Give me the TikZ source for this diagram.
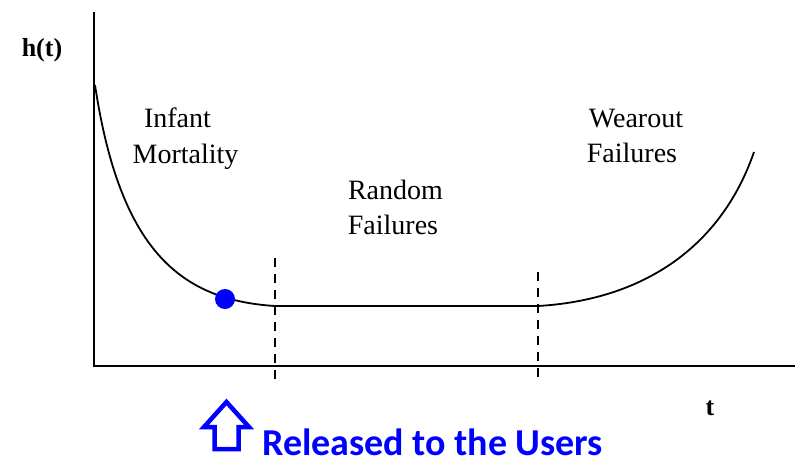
\documentclass[tikz,border=0pt]{standalone}
\usepackage{fontspec}
\setmainfont{Liberation Serif}
\newfontfamily\calfont{Carlito}
\begin{document}
\begin{tikzpicture}[x=1pt,y=-1pt,
  lbl/.style={font=\fontsize{28}{36}\selectfont, anchor=base, inner sep=0pt},
  axisline/.style={line width=1.6pt, black},
  curveline/.style={line width=1.8pt, black},
  divider/.style={line width=1.5pt, dash pattern=on 9pt off 7pt},
  bluetext/.style={font=\calfont\bfseries\fontsize{38}{40}\selectfont, text=blue, anchor=base west, inner sep=0pt, text depth=0pt}]
\useasboundingbox (0,0) rectangle (802,464);
% axes
\coordinate (ytop) at (94,12);
\coordinate (origin) at (94,366);
\coordinate (xend) at (795,366);
\draw[axisline] (ytop) -- (origin) -- (xend);
% curve
\coordinate (c0) at (95,85);
\coordinate (c1) at (275,306);
\coordinate (c2) at (538,306);
\coordinate (c3) at (754,152);
\draw[curveline] (c0) .. controls (120,250) and (180,300) .. (c1) -- (c2)
  .. controls (640,300) and (720,250) .. (c3);
% dividers
\coordinate (d1t) at (275,258);
\coordinate (d1b) at (275,384);
\coordinate (d2t) at (538,272);
\coordinate (d2b) at (538,378);
\draw[divider] (d1t) -- (d1b);
\draw[divider] (d2t) -- (d2b);
% dot
\fill[blue] (225,299) circle (10);
% labels
\node[lbl, font=\fontsize{26}{30}\selectfont\bfseries] (ht) at (42,56) {h(t)};
\node[lbl] (inf1) at (177.5,127) {Infant};
\node[lbl] (inf2) at (185.5,163) {Mortality};
\node[lbl] (rnd1) at (395.5,199) {Random};
\node[lbl] (rnd2) at (393,234) {Failures};
\node[lbl] (wo1) at (636,127) {Wearout};
\node[lbl] (wo2) at (632,162) {Failures};
\node[lbl, font=\fontsize{26}{30}\selectfont\bfseries] (tlab) at (710,415) {t};
% release arrow and text
\draw[blue, line width=4.5pt, line join=miter]
  (226.5,402) -- (249,427) -- (238.5,427) -- (238.5,449) -- (214.5,449)
  -- (214.5,427) -- (204,427) -- cycle;
\node[bluetext] (rel) at (262,455) {Released to the Users};
\end{tikzpicture}
\end{document}
